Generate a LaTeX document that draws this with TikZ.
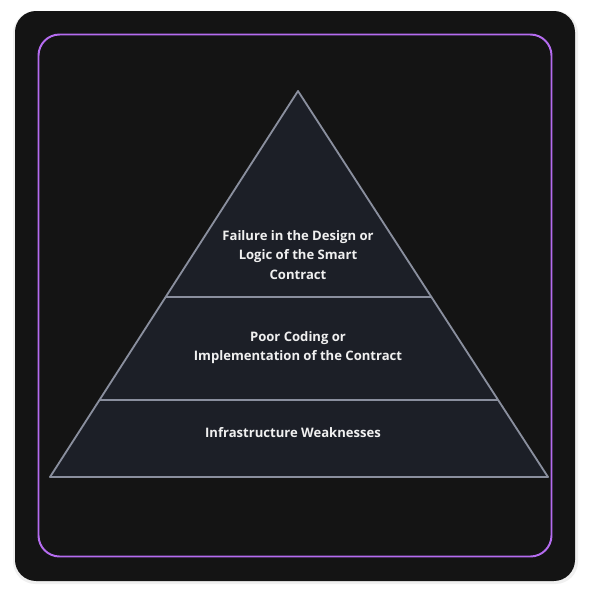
\documentclass[tikz,border=0pt]{standalone}
\usepackage{fontspec}
\setmainfont{Open Sans}
\usepackage{xcolor}
\definecolor{panelBg}{HTML}{141414}
\definecolor{frameViolet}{HTML}{B56CF0}
\definecolor{tierFill}{HTML}{1C1F27}
\definecolor{tierLine}{HTML}{8A8F9E}
\definecolor{tierText}{HTML}{F0F0F0}
\usetikzlibrary{calc}

\begin{document}
\begin{tikzpicture}[
  x=0.025cm, y=-0.025cm,
  tierlabel/.style={font=\fontsize{9.3}{13.9}\selectfont\bfseries, text=tierText, align=center},
  tieredge/.style={draw=tierLine, line width=1.3pt, line join=round}
]

% Page and panels
\useasboundingbox[fill=white] (0,0) rectangle (590,600);
\fill[black!6, rounded corners=16] (13,11) rectangle (578,584);
\fill[panelBg, rounded corners=15] (15,11) rectangle (575,581);
\draw[frameViolet, line width=1.4pt, rounded corners=15] (38.5,34.5) rectangle (551.5,556.5);

% Pyramid corners
\coordinate (apex) at (298,91);
\coordinate (baseL) at (50,477);
\coordinate (baseR) at (548,477);
\coordinate (cutTopL) at ($(apex)!0.5337!(baseL)$);
\coordinate (cutTopR) at ($(apex)!0.5337!(baseR)$);
\coordinate (cutLowL) at ($(apex)!0.8005!(baseL)$);
\coordinate (cutLowR) at ($(apex)!0.8005!(baseR)$);

\fill[tierFill] (apex) -- (baseR) -- (baseL) -- cycle;
\draw[tieredge] (cutTopL) -- (cutTopR);
\draw[tieredge] (cutLowL) -- (cutLowR);
\draw[tieredge] (apex) -- (baseR) -- (baseL) -- cycle;

% Tier labels
\node[tierlabel] (design) at (298,255) {Failure in the Design or\\Logic of the Smart\\Contract};
\node[tierlabel] (coding) at (298,347.5) {Poor Coding or\\Implementation of the Contract};
\node[tierlabel] (infra) at (293,433) {Infrastructure Weaknesses};

\end{tikzpicture}
\end{document}
